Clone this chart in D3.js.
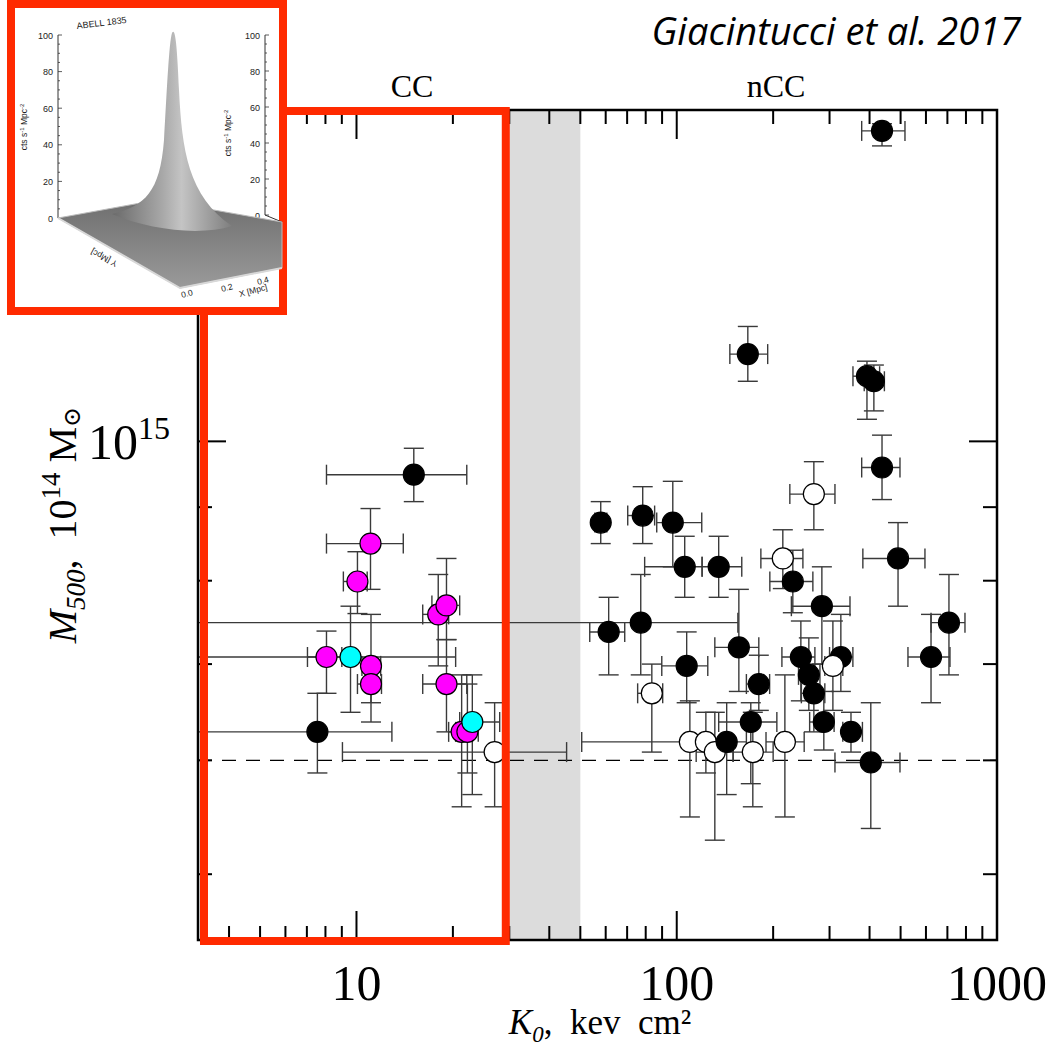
<!DOCTYPE html>
<html>
<head>
<meta charset="utf-8">
<script src="https://cdn.jsdelivr.net/npm/d3@7"></script>
<style>
  body { margin: 0; background: #fff; }
  svg { display: block; }
</style>
</head>
<body>
<div id="chart"></div>
<script>
// central entropy K0 (keV cm^2) and M500 (10^14 Msun) per cluster
// kind: b = filled, w = open, m = magenta, c = cyan
var kind   = ["b","m","m","m","m","m","c","m","m","b","m","m","m","c","w",
              "b","b","b","b","b","b","b","b","b","b","w","b","w","b","b",
              "b","b","b","b","b","b","w","b","b","b","w","b","b","b","b",
              "b","w","b","w","w","w","b","w"];
var k0     = [15.1, 11.06, 10.07, 18.0, 19.1, 8.06, 9.58, 11.1, 11.1, 7.55, 19.1, 21.3, 22.2, 23.0, 27.0,
              437.5, 166.7, 392.6, 412.6, 437.5, 57.9, 78.3, 97.2, 105.9, 135.2, 214.4, 230.4, 268, 283.9, 490.9,
              707.9, 622.3, 61.3, 77.2, 156.3, 107.4, 83.6, 180.4, 244.1, 325.4, 307.3, 258.5, 268, 287.9, 350,
              403.6, 217.6, 170.3, 109.9, 123.3, 131.5, 143.2, 172.8];
var k0Lo   = [8.06, 8.06, 9.1, 16.1, 17.2, 7.03, 2.0, 10.4, 10.07, 2.0, 16.1, 19.4, 20.4, 21.0, 9.04,
              378, 146.5, 355, 385, 378, 55.5, 70.3, 86.6, 79.4, 120, 183.1, 195.3, 225.5, 228, 381.2,
              622.3, 527.2, 53.5, 2.0, 131.5, 89.8, 75.5, 165, 213, 300, 290, 240, 245, 260, 330,
              311.9, 190, 135.2, 50.5, 110, 115, 125, 150];
var k0Hi   = [22.1, 14.0, 10.8, 19.4, 21.0, 9.0, 20.4, 11.9, 11.97, 12.9, 22.1, 23.0, 24.0, 28.0, 45.3,
              516, 192.3, 430, 445, 497.8, 60.5, 85.3, 119.7, 120, 159.6, 247.7, 266.1, 311.9, 347.5, 595.7,
              794.3, 713.1, 68.8, 155.2, 180.4, 125, 90.4, 195, 270, 354.8, 330, 280, 290, 310, 380,
              497.8, 250, 205.4, 140, 140, 150, 165, 200];
var m500   = [9.48, 8.49, 7.99, 7.58, 7.69, 7.08, 7.08, 6.98, 6.78, 6.28, 6.78, 6.28, 6.28, 6.38, 6.08,
              16.44, 11.50, 11.10, 11.01, 9.59, 8.78, 8.88, 8.78, 8.18, 8.18, 8.29, 7.99, 9.19, 7.68, 8.29,
              7.48, 7.08, 7.37, 7.48, 7.19, 6.98, 6.68, 6.78, 7.08, 7.08, 6.98, 6.88, 6.68, 6.38, 6.28,
              5.98, 6.18, 6.38, 6.18, 6.18, 6.08, 6.18, 6.08];
var m500Lo = [9.08, 7.89, 7.59, 6.98, 7.28, 6.68, 6.48, 6.58, 6.38, 5.88, 6.28, 5.57, 5.88, 5.68, 5.57,
              16.05, 11.01, 10.36, 10.5, 9.11, 8.49, 8.49, 8.18, 7.79, 7.79, 7.9, 7.6, 8.68, 7.0, 7.68,
              6.88, 6.58, 6.88, 6.88, 6.7, 6.58, 6.08, 6.5, 6.6, 6.7, 6.5, 6.5, 6.28, 6.1, 6.08,
              5.38, 5.48, 5.78, 5.48, 5.88, 5.28, 5.68, 5.57];
var m500Hi = [9.89, 8.98, 8.38, 8.08, 8.29, 7.38, 7.68, 7.58, 7.0, 6.68, 7.28, 6.88, 6.78, 6.88, 6.58,
              16.63, 12.02, 11.37, 11.30, 10.10, 9.08, 9.30, 9.38, 8.59, 8.59, 8.68, 8.4, 9.68, 8.18, 8.78,
              8.08, 7.58, 7.79, 8.08, 7.89, 7.37, 7.0, 7.1, 7.5, 7.58, 7.5, 7.3, 7.0, 6.7, 6.48,
              6.58, 6.88, 6.58, 6.6, 6.48, 6.48, 6.58, 6.48];

var xMajorTicks = [10, 100, 1000];
var xMinorTicks = [4, 5, 6, 7, 8, 9, 20, 30, 40, 50, 60, 70, 80, 90, 200, 300, 400, 500, 600, 700, 800, 900];
var yMajorTicks = [10];
var yMinorTicks = [5, 6, 7, 8, 9];
var ccEdge = 30;          // cool-core limit
var band = [30, 50];      // shaded transition zone
var massCut = 6;          // 6e14 Msun selection line
var insetTicks = [0, 20, 40, 60, 80, 100];

var fills = { b: "#000", w: "#fff", m: "#ff00ff", c: "#00ffff" };
var red = "#ff2a00";

var W = 1054, H = 1049;
var L = 198, R = 997, T = 110, B = 940;

var svg = d3.select("#chart").append("svg").attr("width", W).attr("height", H);

var x = d3.scaleLog().domain([3.2, 1000]).range([L, R]);
var y = d3.scaleLog().domain([4.5, 17]).range([B, T]);

svg.append("clipPath").attr("id", "plotclip")
  .append("rect").attr("x", L).attr("y", T).attr("width", R - L).attr("height", B - T);

// shaded band
svg.append("rect")
  .attr("x", x(band[0])).attr("y", T)
  .attr("width", x(band[1]) - x(band[0])).attr("height", B - T)
  .attr("fill", "#dcdcdc");

// mass cut
svg.append("line")
  .attr("x1", L).attr("x2", R).attr("y1", y(massCut)).attr("y2", y(massCut))
  .attr("stroke", "#000").attr("stroke-width", 1.2).attr("stroke-dasharray", "14,10");

// error bars
var pts = k0.map(function(k, i) {
  return { k: k, kl: k0Lo[i], kh: k0Hi[i], m: m500[i], ml: m500Lo[i], mh: m500Hi[i], t: kind[i] };
});

var eb = svg.append("g").attr("clip-path", "url(#plotclip)")
  .attr("stroke", "#3a3a3a").attr("stroke-width", 1.4).attr("fill", "none");
var cap = 10;
pts.forEach(function(p) {
  var cx = x(p.k), cy = y(p.m);
  eb.append("line").attr("x1", x(p.kl)).attr("x2", x(p.kh)).attr("y1", cy).attr("y2", cy);
  eb.append("line").attr("x1", x(p.kl)).attr("x2", x(p.kl)).attr("y1", cy - cap).attr("y2", cy + cap);
  eb.append("line").attr("x1", x(p.kh)).attr("x2", x(p.kh)).attr("y1", cy - cap).attr("y2", cy + cap);
  eb.append("line").attr("x1", cx).attr("x2", cx).attr("y1", y(p.ml)).attr("y2", y(p.mh));
  eb.append("line").attr("x1", cx - cap).attr("x2", cx + cap).attr("y1", y(p.ml)).attr("y2", y(p.ml));
  eb.append("line").attr("x1", cx - cap).attr("x2", cx + cap).attr("y1", y(p.mh)).attr("y2", y(p.mh));
});

// markers
svg.append("g").selectAll("circle").data(pts).enter().append("circle")
  .attr("cx", function(d) { return x(d.k); })
  .attr("cy", function(d) { return y(d.m); })
  .attr("r", 10.5)
  .attr("fill", function(d) { return fills[d.t]; })
  .attr("stroke", "#000").attr("stroke-width", 1.2);

// frame + ticks
svg.append("rect").attr("x", L).attr("y", T).attr("width", R - L).attr("height", B - T)
  .attr("fill", "none").attr("stroke", "#000").attr("stroke-width", 2.5);

var tk = svg.append("g").attr("stroke", "#000").attr("stroke-width", 2);
function xTick(v, len) {
  tk.append("line").attr("x1", x(v)).attr("x2", x(v)).attr("y1", B).attr("y2", B - len);
  tk.append("line").attr("x1", x(v)).attr("x2", x(v)).attr("y1", T).attr("y2", T + len);
}
function yTick(v, len) {
  tk.append("line").attr("x1", L).attr("x2", L + len).attr("y1", y(v)).attr("y2", y(v));
  tk.append("line").attr("x1", R).attr("x2", R - len).attr("y1", y(v)).attr("y2", y(v));
}
xMinorTicks.forEach(function(v) { xTick(v, 14); });
xMajorTicks.forEach(function(v) { xTick(v, 29); });
yMinorTicks.forEach(function(v) { yTick(v, 14); });
yMajorTicks.forEach(function(v) { yTick(v, 28); });

var serif = "'Liberation Serif', 'DejaVu Serif', serif";

svg.append("g").selectAll("text").data(xMajorTicks).enter().append("text")
  .attr("x", function(d) { return x(d); }).attr("y", 1000)
  .attr("text-anchor", "middle").attr("font-family", serif).attr("font-size", 50)
  .text(function(d) { return d; });

var yl = svg.append("text").attr("x", 88).attr("y", y(10) + 18)
  .attr("font-family", serif).attr("font-size", 50);
yl.append("tspan").text("10");
yl.append("tspan").attr("font-size", 32).attr("dy", -20).text("15");

// axis titles
var xt = svg.append("text").attr("x", 600).attr("y", 1034).attr("text-anchor", "middle")
  .attr("font-family", serif).attr("font-size", 35).attr("xml:space", "preserve");
xt.append("tspan").attr("font-style", "italic").text("K");
xt.append("tspan").attr("font-style", "italic").attr("font-size", 23).attr("dy", 8).text("0");
xt.append("tspan").attr("dy", -8).text(",  kev  cm²");

var yt = svg.append("text").attr("transform", "translate(76,525) rotate(-90)")
  .attr("text-anchor", "middle").attr("font-family", serif).attr("font-size", 40)
  .attr("xml:space", "preserve");
yt.append("tspan").attr("font-style", "italic").text("M");
yt.append("tspan").attr("font-style", "italic").attr("font-size", 27).attr("dy", 9).text("500");
yt.append("tspan").attr("dy", -9).text(",  10");
yt.append("tspan").attr("font-size", 27).attr("dy", -16).text("14");
yt.append("tspan").attr("dy", 16).text(" M");
yt.append("tspan").attr("font-size", 24).attr("dy", 4).text("⊙");

svg.append("text").attr("x", 412).attr("y", 97).attr("text-anchor", "middle")
  .attr("font-family", serif).attr("font-size", 32).text("CC");
svg.append("text").attr("x", 776).attr("y", 97).attr("text-anchor", "middle")
  .attr("font-family", serif).attr("font-size", 32).text("nCC");

svg.append("text").attr("x", 1021).attr("y", 45).attr("text-anchor", "end")
  .attr("font-family", "'Open Sans', sans-serif").attr("font-style", "italic")
  .attr("font-size", 38).text("Giacintucci et al. 2017");

// CC highlight box
svg.append("rect")
  .attr("x", 204).attr("y", 111)
  .attr("width", x(ccEdge) - 3.5 - 204).attr("height", 941 - 111)
  .attr("fill", "none").attr("stroke", red).attr("stroke-width", 8);

// inset: surface brightness of Abell 1835
function drawInset() {
  var g = svg.append("g");
  g.append("rect").attr("x", 11).attr("y", 4).attr("width", 272).attr("height", 307)
    .attr("fill", "#fff").attr("stroke", red).attr("stroke-width", 8);

  var defs = svg.append("defs");
  var gb = defs.append("linearGradient").attr("id", "baseg")
    .attr("x1", 0).attr("y1", 0).attr("x2", 0).attr("y2", 1);
  gb.append("stop").attr("offset", 0).attr("stop-color", "#6e6e6e");
  gb.append("stop").attr("offset", 1).attr("stop-color", "#9a9a9a");
  var gp = defs.append("linearGradient").attr("id", "peakg")
    .attr("x1", 0).attr("y1", 0).attr("x2", 1).attr("y2", 0);
  gp.append("stop").attr("offset", 0).attr("stop-color", "#6a6a6a");
  gp.append("stop").attr("offset", 0.42).attr("stop-color", "#a8a8a8");
  gp.append("stop").attr("offset", 0.58).attr("stop-color", "#c4c4c4");
  gp.append("stop").attr("offset", 1).attr("stop-color", "#7e7e7e");

  var zs = d3.scaleLinear().domain([0, 100]).range([218, 35]);
  var zr = d3.scaleLinear().domain([0, 100]).range([215, 35]);

  // axes
  g.append("line").attr("x1", 58).attr("x2", 58).attr("y1", zs(100)).attr("y2", zs(0))
    .attr("stroke", "#333").attr("stroke-width", 1);
  g.append("line").attr("x1", 265).attr("x2", 265).attr("y1", zr(100)).attr("y2", zr(0))
    .attr("stroke", "#333").attr("stroke-width", 1);
  g.append("line").attr("x1", 265).attr("x2", 282).attr("y1", zr(0)).attr("y2", 222)
    .attr("stroke", "#333").attr("stroke-width", 1);
  d3.range(0, 101, 5).forEach(function(v) {
    var len = v % 20 === 0 ? 4 : 2;
    g.append("line").attr("x1", 58).attr("x2", 58 + len).attr("y1", zs(v)).attr("y2", zs(v))
      .attr("stroke", "#333").attr("stroke-width", 0.8);
    g.append("line").attr("x1", 265).attr("x2", 265 + len).attr("y1", zr(v)).attr("y2", zr(v))
      .attr("stroke", "#333").attr("stroke-width", 0.8);
  });
  var sans = "'Liberation Sans', Arial, sans-serif";
  insetTicks.forEach(function(v) {
    g.append("text").attr("x", 53).attr("y", zs(v) + 3.5).attr("text-anchor", "end")
      .attr("font-family", sans).attr("font-size", 9).attr("fill", "#222").text(v);
    g.append("text").attr("x", 260).attr("y", zr(v) + 3.5).attr("text-anchor", "end")
      .attr("font-family", sans).attr("font-size", 9).attr("fill", "#222").text(v);
  });
  [[27, 127], [231, 133]].forEach(function(p) {
    var t = g.append("text").attr("transform", "translate(" + p[0] + "," + p[1] + ") rotate(-90)")
      .attr("text-anchor", "middle").attr("font-family", sans).attr("font-size", 8.5).attr("fill", "#222");
    t.append("tspan").text("cts s");
    t.append("tspan").attr("dy", -3).attr("font-size", 6).text("-1");
    t.append("tspan").attr("dy", 3).text(" Mpc");
    t.append("tspan").attr("dy", -3).attr("font-size", 6).text("-2");
  });
  g.append("text").attr("transform", "translate(77,29) rotate(-7)")
    .attr("font-family", sans).attr("font-size", 9).attr("fill", "#222").text("ABELL 1835");

  // base and peak
  g.append("polygon").attr("points", "58,218 157,200 282,222 282,268 180,288")
    .attr("fill", "url(#baseg)").attr("stroke", "#bbb").attr("stroke-width", 1);
  g.append("path")
    .attr("d", "M 112,214 C 145,206 160,192 164,140 C 167,90 169,42 172,33 C 175,27 177,42 179,90 " +
               "C 182,150 188,196 232,226 C 200,236 150,230 112,214 Z")
    .attr("fill", "url(#peakg)");
  g.append("polyline").attr("points", "58,218 180,288 282,268")
    .attr("fill", "none").attr("stroke", "#d8d8d8").attr("stroke-width", 2);

  g.append("text").attr("transform", "translate(118,262) rotate(208)")
    .attr("font-family", sans).attr("font-size", 8.5).attr("fill", "#222").text("Y [Mpc]");
  [["0.0", 182, 298], ["0.2", 222, 292], ["0.4", 258, 285]].forEach(function(a) {
    g.append("text").attr("transform", "translate(" + a[1] + "," + a[2] + ") rotate(-15)")
      .attr("font-family", sans).attr("font-size", 8.5).attr("fill", "#222").text(a[0]);
  });
  g.append("text").attr("transform", "translate(240,297) rotate(-15)")
    .attr("font-family", sans).attr("font-size", 8.5).attr("fill", "#222").text("X [Mpc]");
}
drawInset();
</script>
</body>
</html>
